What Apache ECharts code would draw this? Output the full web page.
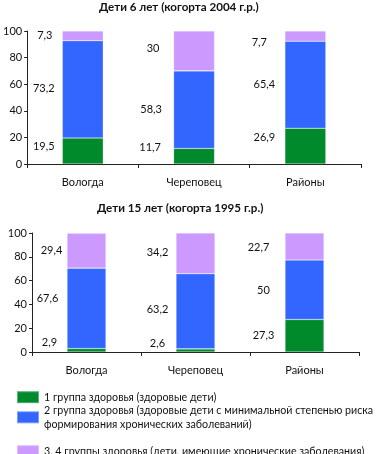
<!DOCTYPE html>
<html><head><meta charset="utf-8">
<script src="https://cdn.jsdelivr.net/npm/echarts@6/dist/echarts.min.js"></script>
<style>html,body{margin:0;padding:0;background:#fff}#c{width:384px;height:454px}</style>
</head><body><div id="c"></div>
<script>
const categories = ['Вологда', 'Череповец', 'Районы'];
const seriesNames = [
  '1 группа здоровья (здоровые дети)',
  '2 группа здоровья (здоровые дети с минимальной степенью риска\nформирования хронических заболеваний)',
  '3, 4 группы здоровья (дети, имеющие хронические заболевания)'
];
const title6 = 'Дети 6 лет (когорта 2004 г.р.)';
const title15 = 'Дети 15 лет (когорта 1995 г.р.)';
const age6Group1 = [19.5, 11.7, 26.9];
const age6Group2 = [73.2, 58.3, 65.4];
const age6Group34 = [7.3, 30, 7.7];
const age15Group1 = [2.9, 2.6, 27.3];
const age15Group2 = [67.6, 63.2, 50];
const age15Group34 = [29.4, 34.2, 22.7];
const yTicks = [0, 20, 40, 60, 80, 100];

// styling
const colors = ['#008A2B', '#3366FF', '#CC99FF'];
const FONT = 'Lato';
// label offsets (pixels) per chart, per group, per category
const offX = [
  [[-39, -44, -41], [-39, -43, -41], [-38, -41, -46]],
  [[-37, -38, -41], [-39, -38, -41], [-35, -38, -46]]
];
const offY = [
  [[-5, -9, -9], [-1, 0, 0], [0, -2, 6]],
  [[-8, -7, 0], [-10, -2, 1], [0, -1, 1]]
];

const fmt = v => String(v).replace('.', ',');

function mkSeries(chartIdx, g, vals) {
  return {
    type: 'bar', name: seriesNames[g], stack: 's' + chartIdx,
    xAxisIndex: chartIdx, yAxisIndex: chartIdx,
    barWidth: chartIdx === 0 ? 41 : 39,
    itemStyle: { color: colors[g], borderColor: 'rgba(255,255,255,0.35)', borderWidth: 0.6 },
    data: vals.map((v, i) => ({
      value: v,
      label: { offset: [offX[chartIdx][g][i], offY[chartIdx][g][i]] }
    })),
    label: {
      show: true, position: 'inside', color: '#111', fontFamily: FONT, fontSize: 11,
      formatter: p => fmt(p.value)
    },
    emphasis: { disabled: true }
  };
}

function axisPair(idx) {
  return {
    x: {
      type: 'category', gridIndex: idx, data: categories, boundaryGap: true,
      axisLine: { lineStyle: { color: '#222', width: 1 } },
      axisTick: { show: true, alignWithLabel: false, length: 4, lineStyle: { color: '#222' } },
      axisLabel: { color: '#111', fontFamily: FONT, fontSize: 11, margin: 13 }
    },
    y: {
      type: 'value', gridIndex: idx, min: 0, max: 100, interval: 20,
      axisLine: { show: true, lineStyle: { color: '#222', width: 1 } },
      axisTick: { show: true, length: 3, lineStyle: { color: '#222' } },
      splitLine: { show: false },
      axisLabel: { color: '#111', fontFamily: FONT, fontSize: 11, margin: 5,
        customValues: yTicks }
    }
  };
}
const a0 = axisPair(0), a1 = axisPair(1);

const legendBase = {
  orient: 'vertical', left: 16, itemWidth: 22, itemHeight: 12, itemGap: 6,
  icon: 'rect', selectedMode: false, padding: 0,
  textStyle: { fontFamily: FONT, fontSize: 10.7, color: '#111', lineHeight: 14.3 }
};
const titleStyle = { fontFamily: FONT, fontSize: 11.6, fontWeight: 'bold', color: '#111' };

const chart = echarts.init(document.getElementById('c'), null, { renderer: 'canvas' });
chart.setOption({
  animation: false,
  title: [
    { text: title6, left: 99, top: 1, padding: 0, textStyle: titleStyle },
    { text: title15, left: 97, top: 202, padding: 0, textStyle: titleStyle }
  ],
  grid: [
    { left: 27, right: 23, top: 31, height: 133 },
    { left: 32, right: 25, top: 233, height: 119 }
  ],
  xAxis: [a0.x, a1.x],
  yAxis: [a0.y, a1.y],
  legend: [
    Object.assign({}, legendBase, { top: 390, data: [seriesNames[0]] }),
    Object.assign({}, legendBase, { top: 403, data: [seriesNames[1]] }),
    Object.assign({}, legendBase, { top: 444, data: [seriesNames[2]] })
  ],
  series: [
    mkSeries(0, 0, age6Group1), mkSeries(0, 1, age6Group2), mkSeries(0, 2, age6Group34),
    mkSeries(1, 0, age15Group1), mkSeries(1, 1, age15Group2), mkSeries(1, 2, age15Group34)
  ]
});
</script></body></html>
